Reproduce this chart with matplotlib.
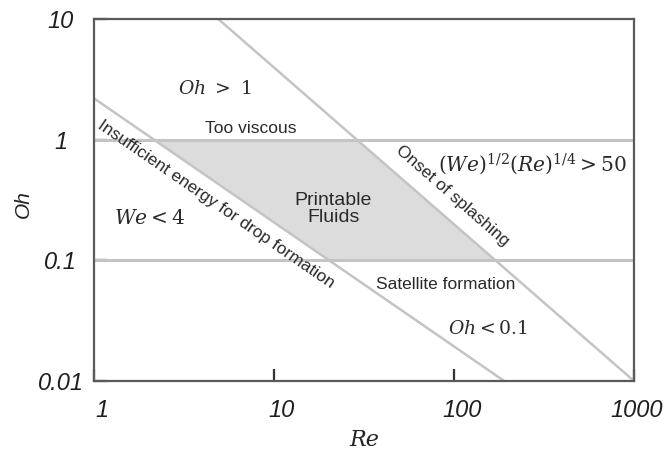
import numpy as np
import matplotlib
matplotlib.use("Agg")
import matplotlib.pyplot as plt
from matplotlib import font_manager, transforms

# Regime-map boundaries (Re, Oh)
oh_upper = 1.0            # Oh = 1  (too viscous above)
oh_lower = 0.1            # Oh = 0.1 (satellite drops below)
we_line_re = [1.0, 190.0]         # We = 4 boundary
we_line_oh = [2.2, 0.01]
splash_line_re = [4.9, 1000.0]    # onset of splashing
splash_line_oh = [10.0, 0.01]

x_ticks = [1, 10, 100, 1000]
x_tick_labels = ["1", "10", "100", "1000"]
y_ticks = [0.01, 0.1, 1, 10]
y_tick_labels = ["0.01", "0.1", "1", "10"]

names = {f.name for f in font_manager.fontManager.ttflist}
narrow = "Liberation Sans Narrow" if "Liberation Sans Narrow" in names else "Liberation Sans"
sans = "Liberation Sans"

plt.rcParams["mathtext.fontset"] = "dejavuserif"

fig = plt.figure(figsize=(6.65, 4.5), dpi=100)
ax = fig.add_axes([94 / 665, 1 - 381 / 450, 540 / 665, 362 / 450])
ax.set_xscale("log")
ax.set_yscale("log")
ax.set_xlim(1, 1000)
ax.set_ylim(0.01, 10)

line_col = "#c4c4c4"
fill_col = "#dcdcdc"


def re_at(re_pts, oh_pts, oh):
    lr = np.log10(re_pts)
    lo = np.log10(oh_pts)
    return 10 ** (lr[0] + (lr[1] - lr[0]) * (np.log10(oh) - lo[0]) / (lo[1] - lo[0]))


# Printable-fluid window
a = re_at(we_line_re, we_line_oh, oh_upper)
b = re_at(splash_line_re, splash_line_oh, oh_upper)
c = re_at(splash_line_re, splash_line_oh, oh_lower)
d = re_at(we_line_re, we_line_oh, oh_lower)
ax.fill([a, b, c, d], [oh_upper, oh_upper, oh_lower, oh_lower],
        color=fill_col, lw=0, zorder=1)

ax.axhline(oh_upper, color=line_col, lw=2.2, zorder=2)
ax.axhline(oh_lower, color=line_col, lw=2.2, zorder=2)
ax.plot(we_line_re, we_line_oh, color=line_col, lw=1.8, zorder=2)
ax.plot(splash_line_re, splash_line_oh, color=line_col, lw=1.8, zorder=2)

# axes frame and ticks
for s in ax.spines.values():
    s.set_color("#5a5a5a")
    s.set_linewidth(1.6)
ax.set_xticks(x_ticks)
ax.set_xticklabels(x_tick_labels)
ax.set_yticks(y_ticks)
ax.set_yticklabels(y_tick_labels)
ax.minorticks_off()
ax.tick_params(axis="both", direction="in", length=9, width=1.6, color="#333333",
               labelsize=17, labelcolor="#1e1e1e")
ax.tick_params(axis="x", pad=13)
ax.tick_params(axis="y", pad=24)
shifts_px = [8, 8, 8, 3]
for lab, dx in zip(ax.get_xticklabels(), shifts_px):
    lab.set_fontfamily(sans)
    lab.set_fontstyle("italic")
    lab.set_transform(lab.get_transform()
                      + transforms.ScaledTranslation(dx / 100, 0, fig.dpi_scale_trans))
for lab in ax.get_yticklabels():
    lab.set_fontfamily(sans)
    lab.set_fontstyle("italic")
    lab.set_horizontalalignment("center")

ax.set_xlabel("Re", fontsize=16, family="DejaVu Serif", style="italic",
              color="#222222", va="center")
ax.xaxis.set_label_coords(0.5, (381 - 440) / 362)
ax.set_ylabel("Oh", fontsize=15, family=sans, style="italic",
              color="#222222", va="center")
ax.yaxis.set_label_coords((23 - 94) / 540, 0.49)


def angle_of(re_pts, oh_pts):
    p = ax.transData.transform(np.column_stack([re_pts, oh_pts]))
    return np.degrees(np.arctan2(p[1, 1] - p[0, 1], p[1, 0] - p[0, 0]))


txt = dict(color="#2a2a2a", ha="center", va="center", zorder=3)
math = dict(color="#2a2a2a", ha="center", va="center", zorder=3)

ax.text(4.7, 2.66, r"$Oh\ >\ 1$", fontsize=13.5, **math)
ax.text(7.4, 1.23, "Too viscous", family=narrow, fontsize=12.5, **txt)
ax.text(21.3, 0.266, "Printable\nFluids", family=sans, fontsize=14,
        linespacing=1.05, **txt)
ax.text(2.02, 0.224, r"$We < 4$", fontsize=14.5, **math)
ax.text(271, 0.63, r"$(We)^{1/2}(Re)^{1/4} > 50$", fontsize=14.5, **math)
ax.text(90, 0.063, "Satellite formation", family=narrow, fontsize=12.5, **txt)
ax.text(154, 0.027, r"$Oh < 0.1$", fontsize=13.5, **math)

ax.text(4.76, 0.293, "Insufficient energy for drop formation", family=narrow,
        fontsize=12.5, rotation=angle_of(we_line_re, we_line_oh),
        rotation_mode="anchor", **txt)
ax.text(97.5, 0.34, "Onset of splashing", family=narrow, fontsize=12.5,
        rotation=angle_of(splash_line_re, splash_line_oh),
        rotation_mode="anchor", **txt)

fig.savefig("out.png", dpi=100)
